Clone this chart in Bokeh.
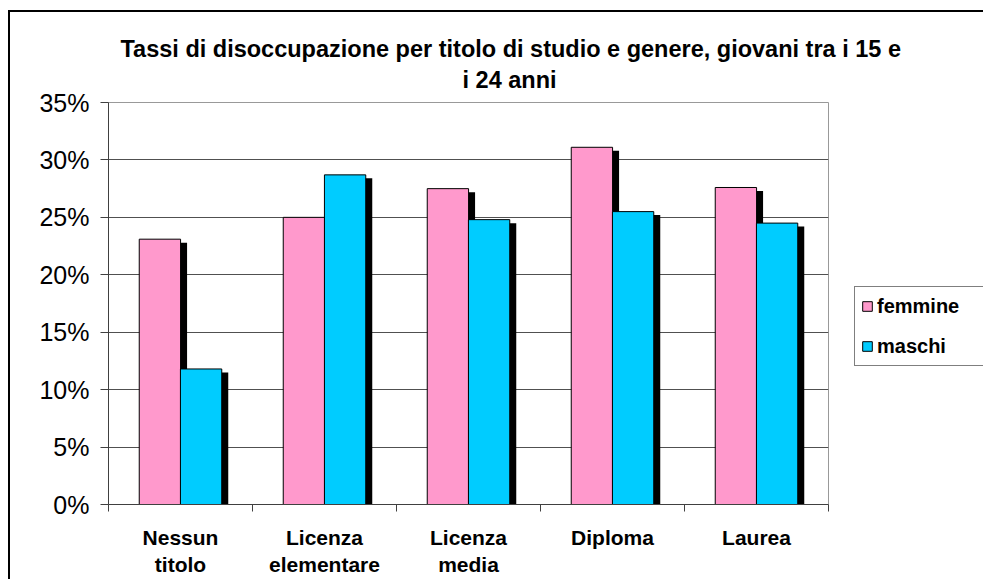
from bokeh.plotting import figure
from bokeh.models import (ColumnDataSource, Range1d, LinearAxis, Title,
                          FixedTicker, NumeralTickFormatter, Legend, LegendItem)
from bokeh.transform import dodge
from bokeh.embed import file_html
from bokeh.resources import INLINE

# ---- data ----
categories = ["Nessun\ntitolo", "Licenza\nelementare", "Licenza\nmedia", "Diploma", "Laurea"]
femmine = [0.231, 0.250, 0.275, 0.311, 0.276]
maschi = [0.118, 0.287, 0.248, 0.255, 0.245]
series_names = ["femmine", "maschi"]
series_colors = ["#FF99CC", "#00CCFF"]
title_lines = ["Tassi di disoccupazione per titolo di studio e genere, giovani tra i 15 e",
               "i 24 anni"]
y_ticks = [0, 0.05, 0.10, 0.15, 0.20, 0.25, 0.30, 0.35]

# ---- layout (pixels) ----
FRAME_W, FRAME_H = 720, 402
Y_MAX = 0.35
N = len(categories)
px_x = N / FRAME_W      # category units per pixel
px_y = Y_MAX / FRAME_H  # value units per pixel
FONT = "Liberation Sans"

centers = [i + 0.5 for i in range(N)]
bounds = list(range(N + 1))
source = ColumnDataSource(dict(xc=centers, femmine=femmine, maschi=maschi))

p = figure(x_range=Range1d(0, N), y_range=Range1d(0, Y_MAX),
           frame_width=FRAME_W, frame_height=FRAME_H,
           min_border_left=98, min_border_right=152, min_border_top=90, min_border_bottom=74,
           x_axis_location=None, output_backend="svg", toolbar_location=None, tools="")
p.styles = {"border-top": "2px solid black", "border-left": "2px solid black",
            "margin-top": "10px", "margin-left": "8px"}
p.background_fill_color = "white"
p.border_fill_color = "white"
p.outline_line_color = "#999999"
p.outline_line_width = 1

bar_w = 0.287
offsets = [-0.143, 0.143]
shadow_dx = 6.5 * px_x
shadow_dy = -3.5 * px_y

for name, off in zip(series_names, offsets):
    p.vbar(x=dodge("xc", off + shadow_dx), top=dodge(name, shadow_dy),
           width=bar_w, source=source, fill_color="black", line_color=None)

renderers = []
for name, off, col in zip(series_names, offsets, series_colors):
    r = p.vbar(x=dodge("xc", off), top=name, width=bar_w, source=source,
               fill_color=col, line_color="black", line_width=1)
    renderers.append(r)

# y axis
p.yaxis.ticker = FixedTicker(ticks=y_ticks)
p.yaxis.formatter = NumeralTickFormatter(format="0%")
p.yaxis.major_label_text_font = FONT
p.yaxis.major_label_text_font_size = "25px"
p.yaxis.major_label_text_color = "black"
p.yaxis.axis_line_color = "#404040"
p.yaxis.major_tick_line_color = "#404040"
p.yaxis.major_tick_out = 8
p.yaxis.major_tick_in = 0
p.yaxis.minor_tick_line_color = None
p.yaxis.major_label_standoff = 11

p.xgrid.visible = False
p.ygrid.grid_line_color = "#505050"
p.ygrid.grid_line_width = 1

# x axis: boundary ticks + category labels
tick_axis = LinearAxis(ticker=FixedTicker(ticks=bounds),
                       major_label_overrides={b: "" for b in bounds},
                       major_tick_out=7, major_tick_in=0, minor_tick_line_color=None,
                       major_label_text_font_size="1px", major_label_standoff=0,
                       axis_line_color="#404040", major_tick_line_color="#404040")
p.add_layout(tick_axis, "below")
cat_axis = LinearAxis(ticker=FixedTicker(ticks=centers),
                      major_label_overrides={c: lab for c, lab in zip(centers, categories)},
                      axis_line_color=None, major_tick_line_color=None, minor_tick_line_color=None,
                      major_tick_out=0, major_tick_in=0,
                      major_label_text_font=FONT, major_label_text_font_size="21px",
                      major_label_text_font_style="bold", major_label_text_color="black",
                      major_label_standoff=14)
p.add_layout(cat_axis, "below")

# title: spacer nearest the plot, then the two title lines
p.add_layout(Title(text=" ", text_font_size="1px", standoff=5), "above")
p.add_layout(Title(text=title_lines[1], align="left", offset=354, standoff=3,
                   text_font=FONT, text_font_size="23.5px", text_font_style="bold",
                   text_color="black"), "above")
p.add_layout(Title(text=title_lines[0], align="left", offset=12, standoff=3,
                   text_font=FONT, text_font_size="23.5px", text_font_style="bold",
                   text_color="black"), "above")

# legend
legend = Legend(items=[LegendItem(label=n, renderers=[r]) for n, r in zip(series_names, renderers)],
                location=(26, 138), orientation="vertical",
                label_text_font=FONT, label_text_font_size="20px", label_text_font_style="bold",
                label_text_color="black", glyph_width=12, glyph_height=12, label_height=26,
                label_width=130, label_standoff=4, spacing=14, padding=6, margin=0,
                border_line_color="black", border_line_width=1, background_fill_color="white",
                background_fill_alpha=1)
p.add_layout(legend, "right")

open("out.html", "w").write(file_html(p, INLINE))
